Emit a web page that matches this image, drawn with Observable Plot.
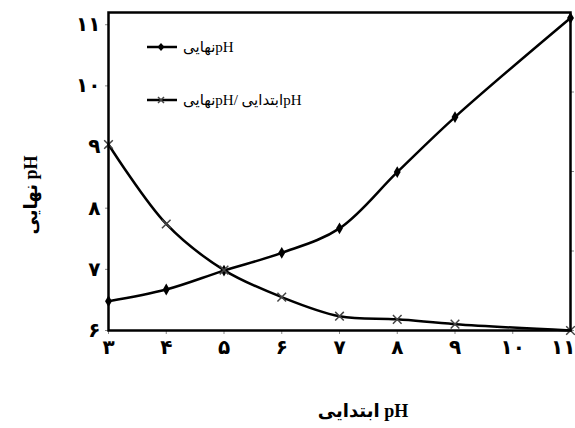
<!DOCTYPE html>
<html>
<head>
<meta charset="utf-8">
<script src="https://cdn.jsdelivr.net/npm/d3@7"></script>
<script src="https://cdn.jsdelivr.net/npm/@observablehq/plot@0.6"></script>
<style>
  body { margin: 0; background: #fff; }
  #wrap { position: relative; width: 575px; height: 428px; font-family: "Liberation Serif", "DejaVu Sans", serif; color: #000; }
  .leg { position: absolute; left: 146px; height: 20px; display: flex; align-items: center; font-size: 15px; white-space: nowrap; }
  .leg svg { margin-right: 4px; }
  .xtitle { position: absolute; left: 363px; top: 400px; transform: translateX(-50%); font-weight: bold; font-size: 18px; white-space: nowrap; }
  .ytitle { position: absolute; left: 31px; top: 195px; transform: translate(-50%, -50%) rotate(-90deg); font-weight: bold; font-size: 18px; white-space: nowrap; }
</style>
</head>
<body>
<div id="wrap"></div>
<script>
// Data
const phInitial = [3, 4, 5, 6, 7, 8, 9, 11];
const phFinal   = [6.48, 6.67, 6.98, 7.27, 7.67, 8.59, 9.49, 11.11];
const ratioFinalInitial = [2.17, 1.67, 1.38, 1.21, 1.09, 1.07, 1.04, 1.0];

const xTicks = [3, 4, 5, 6, 7, 8, 9, 10, 11];
const yTicks = [6, 7, 8, 9, 10, 11];
const ratioTicks = [1, 1.5, 2, 2.5];

const legendFinal = "نهاییpH";
const legendRatio = "نهاییpH/ ابتداییpH";
const xTitle = "ابتدایی pH";
const yTitle = "نهایی pH";

// secondary (ratio) axis: ratio 1 -> pH 6, ratio 3 -> pH 11.2
const secMin = 1, secMax = 3, priMin = 6, priMax = 11.2;
const toPrimary = r => priMin + (r - secMin) * (priMax - priMin) / (secMax - secMin);

const faDigits = "۰۱۲۳۴۵۶۷۸۹";
const fa = d => String(d).replace(/\d/g, c => faDigits[+c]);

const final = phInitial.map((x, i) => ({x, y: phFinal[i]}));
const ratio = phInitial.map((x, i) => ({x, y: toPrimary(ratioFinalInitial[i])}));

const xTicksInner = xTicks.slice(0, -1);
const xTickLast = xTicks.slice(-1);

const chart = Plot.plot({
  width: 575,
  height: 428,
  marginLeft: 108,
  marginRight: 5,
  marginTop: 12,
  marginBottom: 98,
  style: { fontFamily: "'DejaVu Sans', sans-serif", background: "#fff", color: "#000" },
  x: { domain: [3, 11] },
  y: { domain: [priMin, priMax] },
  marks: [
    Plot.axisY({ticks: yTicks, tickFormat: fa, tickSize: 3, tickPadding: 5, stroke: "#888", fontSize: 20, fontWeight: "bold", fill: "#000", label: null}),
    Plot.axisY({anchor: "right", ticks: ratioTicks.map(toPrimary), tickFormat: () => "", tickSize: 3, stroke: "#888", label: null}),
    Plot.axisX({ticks: xTicksInner, tickFormat: fa, tickSize: 4, tickPadding: 5, stroke: "#888", fontSize: 20, fontWeight: "bold", fill: "#000", label: null}),
    Plot.axisX({ticks: xTickLast, tickFormat: fa, tickSize: 4, tickPadding: 5, stroke: "#888", fontSize: 20, fontWeight: "bold", fill: "#000", label: null, textAnchor: "end", dx: 5}),
    Plot.line(final, {x: "x", y: "y", stroke: "#000", strokeWidth: 2.5, curve: "catmull-rom"}),
    Plot.line(ratio, {x: "x", y: "y", stroke: "#000", strokeWidth: 2.5, curve: "catmull-rom"}),
    Plot.dot(final, {x: "x", y: "y", symbol: "diamond", r: 3.6, fill: "#000"}),
    Plot.dot(ratio, {x: "x", y: "y", symbol: "times", r: 4, stroke: "#444", strokeWidth: 1.5}),
    Plot.frame({stroke: "#000", strokeWidth: 2.5})
  ]
});

const wrap = document.getElementById("wrap");
wrap.appendChild(chart);
chart.style.position = "absolute";
chart.style.left = "0";
chart.style.top = "0";

function legendRow(top, marker, label) {
  const div = document.createElement("div");
  div.className = "leg";
  div.style.top = top + "px";
  const m = marker === "diamond"
    ? '<path d="M15,6 L18.5,10 L15,14 L11.5,10 Z" fill="#000"/>'
    : '<path d="M12,7 L18,13 M18,7 L12,13" stroke="#444" stroke-width="1.5"/>';
  div.innerHTML = '<svg width="33" height="20"><line x1="1" y1="10" x2="31" y2="10" stroke="#000" stroke-width="2.5"/>' + m + '</svg><span></span>';
  div.querySelector("span").textContent = label;
  wrap.appendChild(div);
}
legendRow(37, "diamond", legendFinal);
legendRow(90, "times", legendRatio);

const xt = document.createElement("div");
xt.className = "xtitle";
xt.textContent = xTitle;
wrap.appendChild(xt);

const yt = document.createElement("div");
yt.className = "ytitle";
yt.textContent = yTitle;
wrap.appendChild(yt);
</script>
</body>
</html>
